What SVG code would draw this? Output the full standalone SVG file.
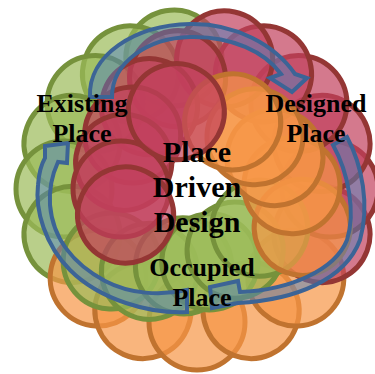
<svg xmlns="http://www.w3.org/2000/svg" width="375" height="374" viewBox="0 0 375 374">
<style>
.g{fill:#9bbb59;fill-opacity:.7;stroke:#76923c;stroke-width:5}
.o{fill:#f79646;fill-opacity:.7;stroke:#c0732f;stroke-width:5}
.r{fill:#c2405c;fill-opacity:.7;stroke:#943634;stroke-width:5}
.arw{fill:#4f81bd;fill-opacity:.5;stroke:#3c6496;stroke-width:4;stroke-linejoin:miter}
.lbl{font-family:"Liberation Serif","Times New Roman",serif;font-weight:bold;font-size:26px;fill:#000;text-anchor:middle}
.ctr{font-size:30px}
</style>
<rect width="375" height="374" fill="#fff"/>
<g id="circles">
<circle class="g" cx="330" cy="189" r="48" transform="rotate(-100 197 189)"/>
<circle class="g" cx="330" cy="189" r="48" transform="rotate(-120 197 189)"/>
<circle class="g" cx="330" cy="189" r="48" transform="rotate(-140 197 189)"/>
<circle class="g" cx="330" cy="189" r="48" transform="rotate(-160 197 189)"/>
<circle class="g" cx="330" cy="189" r="48" transform="rotate(-180 197 189)"/>
<circle class="g" cx="330" cy="189" r="48" transform="rotate(-200 197 189)"/>
<circle class="o" cx="330" cy="189" r="48" transform="rotate(-222 197 189)"/>
<circle class="o" cx="330" cy="189" r="48" transform="rotate(-246 197 189)"/>
<circle class="o" cx="330" cy="189" r="48" transform="rotate(-270 197 189)"/>
<circle class="o" cx="330" cy="189" r="48" transform="rotate(-294 197 189)"/>
<circle class="o" cx="330" cy="189" r="48" transform="rotate(-318 197 189)"/>
<circle class="r" cx="330" cy="189" r="48" transform="rotate(-340 197 189)"/>
<circle class="r" cx="330" cy="189" r="48"/>
<circle class="r" cx="330" cy="189" r="48" transform="rotate(-20 197 189)"/>
<circle class="r" cx="330" cy="189" r="48" transform="rotate(-40 197 189)"/>
<circle class="r" cx="330" cy="189" r="48" transform="rotate(-60 197 189)"/>
<circle class="r" cx="330" cy="189" r="48" transform="rotate(-78 197 189)"/>
<circle class="g" cx="309" cy="189" r="48" transform="rotate(-220 197 189)"/>
<circle class="r" cx="309" cy="189" r="48" transform="rotate(-100 197 189)"/>
<circle class="g" cx="292" cy="189" r="48" transform="rotate(-240 197 189)"/>
<circle class="r" cx="292" cy="189" r="48" transform="rotate(-120 197 189)"/>
<circle class="g" cx="275" cy="189" r="48" transform="rotate(-260 197 189)"/>
<circle class="r" cx="281" cy="189" r="48" transform="rotate(-140 197 189)"/>
<circle class="g" cx="271" cy="189" r="48" transform="rotate(-280 197 189)"/>
<circle class="r" cx="275" cy="189" r="48" transform="rotate(-160 197 189)"/>
<circle class="r" cx="273" cy="189" r="48" transform="rotate(-180 197 189)"/>
<circle class="r" cx="273" cy="189" r="48" transform="rotate(-200 197 189)"/>
<circle class="g" cx="269" cy="189" r="48" transform="rotate(-302 197 189)"/>
<circle class="g" cx="271" cy="189" r="48" transform="rotate(-328 197 189)"/>
<circle class="o" cx="309" cy="189" r="48" transform="rotate(-340 197 189)"/>
<circle class="o" cx="292" cy="189" r="48" transform="rotate(-2 197 189)"/>
<circle class="o" cx="281" cy="189" r="48" transform="rotate(-22 197 189)"/>
<circle class="o" cx="275" cy="189" r="48" transform="rotate(-42 197 189)"/>
<circle class="o" cx="273" cy="189" r="48" transform="rotate(-62 197 189)"/>
<circle class="r" cx="277" cy="189" r="48" transform="rotate(-105 197 189)"/>
</g>
<g id="connectors">
<path class="arw" d="M90,97 C88,55 135,25 190,24 C235,23 275,45 295,74 L307,78 L292,92 L270,78 L281,74 C265,52 232,36 190,37 C148,38 112,62 112,97 Z"/>
<path class="arw" d="M347,137 C362,165 370,205 360,240 C345,280 295,300 238,303 L212,308 L210,287 L238,281 L240,292 C290,290 335,270 347,240 C356,212 348,172 333,145 Z"/>
<path class="arw" d="M187,312 C150,314 100,300 70,270 C45,245 35,210 38,185 C39,172 42,163 45,158 L45,146 L68,143 L67,163 L58,162 C52,175 49,190 50,205 C53,240 75,265 105,281 C130,294 160,296 187,290 Z"/>
</g>
<g id="existing-place"><text class="lbl" x="82" y="112">Existing</text><text class="lbl" x="82" y="142">Place</text></g>
<g id="designed-place"><text class="lbl" x="316" y="112">Designed</text><text class="lbl" x="316" y="142">Place</text></g>
<g id="occupied-place"><text class="lbl" x="202" y="276">Occupied</text><text class="lbl" x="202" y="306">Place</text></g>
<g id="place-driven-design"><text class="lbl ctr" x="197" y="162">Place</text><text class="lbl ctr" x="197" y="197">Driven</text><text class="lbl ctr" x="197" y="232">Design</text></g>
</svg>
